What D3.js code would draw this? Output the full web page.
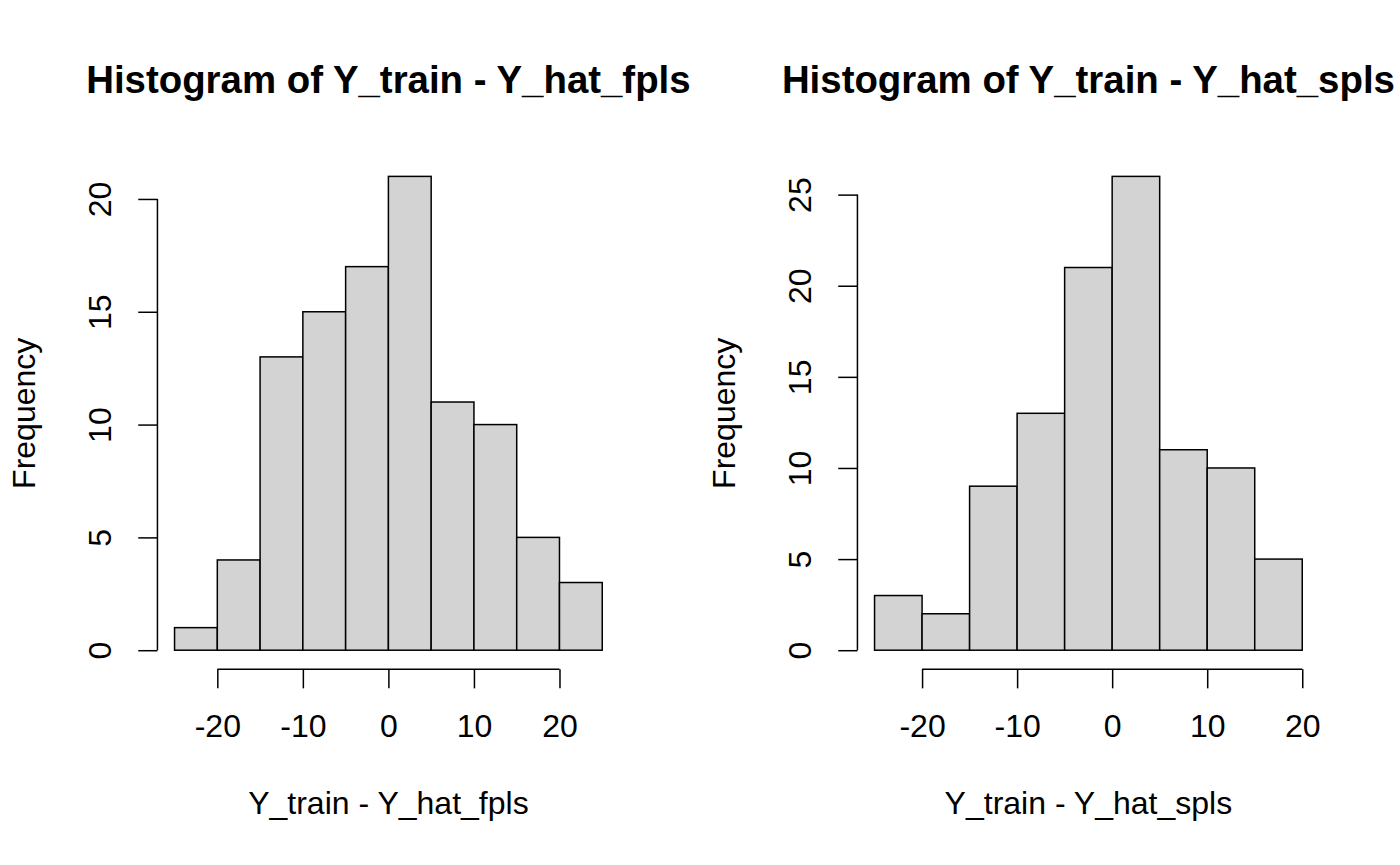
<!DOCTYPE html>
<html>
<head>
<meta charset="utf-8">
<script src="https://cdn.jsdelivr.net/npm/d3@7"></script>
<style>
  html, body { margin: 0; padding: 0; background: #fff; }
  svg { display: block; font-family: "Liberation Sans", Arial, sans-serif; }
</style>
</head>
<body>
<svg id="chart" width="1400" height="865"></svg>
<script>
// ---- data ----
const titles = ["Histogram of Y_train - Y_hat_fpls", "Histogram of Y_train - Y_hat_spls"];
const xLabels = ["Y_train - Y_hat_fpls", "Y_train - Y_hat_spls"];
const yLabel = "Frequency";
const breaksFpls = [-25, -20, -15, -10, -5, 0, 5, 10, 15, 20, 25];
const countsFpls = [1, 4, 13, 15, 17, 21, 11, 10, 5, 3];
const breaksSpls = [-25, -20, -15, -10, -5, 0, 5, 10, 15, 20];
const countsSpls = [3, 2, 9, 13, 21, 26, 11, 10, 5];
const xTicks = [-20, -10, 0, 10, 20];
const yTicksFpls = [0, 5, 10, 15, 20];
const yTicksSpls = [0, 5, 10, 15, 20, 25];

// ---- layout (R base graphics style) ----
const W = 1400, H = 865;
const fs = 32;            // base font px
const line = 38.4;        // margin line height
const mar = {bottom: 5.1 * line, left: 4.1 * line, top: 4.1 * line, right: 2.1 * line};
const svg = d3.select("#chart");

const panels = [
  {breaks: breaksFpls, counts: countsFpls, yTicks: yTicksFpls, title: titles[0], xlab: xLabels[0]},
  {breaks: breaksSpls, counts: countsSpls, yTicks: yTicksSpls, title: titles[1], xlab: xLabels[1]}
];

function ext(lo, hi) { const d = (hi - lo) * 0.04; return [lo - d, hi + d]; }

panels.forEach((p, i) => {
  const fx0 = i * W / 2, fw = W / 2;
  const left = fx0 + mar.left, right = fx0 + fw - mar.right;
  const top = mar.top, bottom = H - mar.bottom;

  const x = d3.scaleLinear().domain(ext(p.breaks[0], p.breaks[p.breaks.length - 1])).range([left, right]);
  const y = d3.scaleLinear().domain(ext(0, d3.max(p.counts))).range([bottom, top]);

  const bins = p.counts.map((c, k) => ({x0: p.breaks[k], x1: p.breaks[k + 1], c}));
  const g = svg.append("g");

  g.selectAll("rect.bar").data(bins).join("rect")
    .attr("class", "bar")
    .attr("x", d => x(d.x0))
    .attr("y", d => y(d.c))
    .attr("width", d => x(d.x1) - x(d.x0))
    .attr("height", d => y(0) - y(d.c))
    .attr("fill", "#D3D3D3")
    .attr("stroke", "#000")
    .attr("stroke-width", 1.5);

  // x axis
  const xa = g.append("g").attr("transform", `translate(0,${bottom})`)
    .call(d3.axisBottom(x).tickValues(xTicks).tickFormat(d3.format("d"))
      .tickSize(line * 0.5).tickPadding(26).tickSizeOuter(0));
  xa.select(".domain").remove();
  xa.append("line")
    .attr("x1", x(xTicks[0])).attr("x2", x(xTicks[xTicks.length - 1]))
    .attr("stroke", "#000").attr("stroke-width", 1.5);
  xa.selectAll(".tick line").attr("stroke", "#000").attr("stroke-width", 1.5);
  xa.selectAll(".tick text").attr("fill", "#000").attr("font-size", fs)
    .attr("font-family", "Liberation Sans, Arial, sans-serif")
    .text(d => d3.format("d")(d).replace("\u2212", "-"));

  // y axis
  const ya = g.append("g").attr("transform", `translate(${left},0)`)
    .call(d3.axisLeft(y).tickValues(p.yTicks).tickFormat(d3.format("d"))
      .tickSize(line * 0.5).tickSizeOuter(0));
  ya.select(".domain").remove();
  ya.append("line")
    .attr("y1", y(p.yTicks[0])).attr("y2", y(p.yTicks[p.yTicks.length - 1]))
    .attr("stroke", "#000").attr("stroke-width", 1.5);
  ya.selectAll(".tick line").attr("stroke", "#000").attr("stroke-width", 1.5);
  ya.selectAll(".tick text").attr("fill", "#000").attr("font-size", fs)
    .attr("font-family", "Liberation Sans, Arial, sans-serif")
    .attr("x", 0).attr("dy", null).attr("y", 0)
    .attr("text-anchor", "middle")
    .attr("transform", "translate(-46.4,0) rotate(-90)");

  // labels
  const cx = (left + right) / 2;
  g.append("text").attr("x", cx).attr("y", 93.3)
    .attr("text-anchor", "middle").attr("font-size", fs * 1.2).attr("font-weight", "bold")
    .attr("fill", "#000").text(p.title);
  g.append("text").attr("x", cx).attr("y", bottom + 3 * line + 29.4)
    .attr("text-anchor", "middle").attr("font-size", fs).attr("fill", "#000").text(p.xlab);
  g.append("text")
    .attr("transform", `translate(${left - 3 * line - 7.5},${(top + bottom) / 2}) rotate(-90)`)
    .attr("text-anchor", "middle").attr("font-size", fs).attr("fill", "#000").text(yLabel);
});
</script>
</body>
</html>
